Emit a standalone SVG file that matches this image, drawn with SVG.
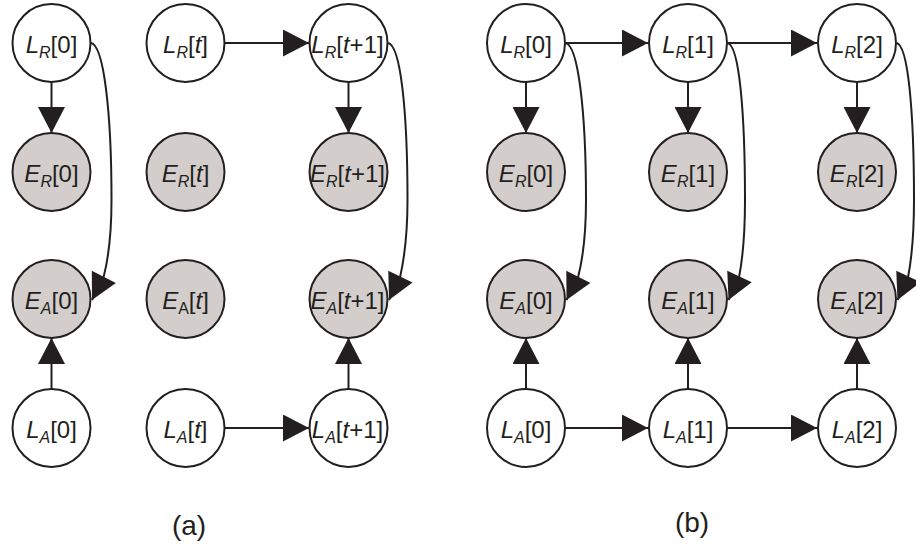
<svg xmlns="http://www.w3.org/2000/svg" width="916" height="545" viewBox="0 0 916 545">
<style>
.n{fill:#ffffff;stroke:#231f20;stroke-width:2}
.e{fill:#d3cecb;stroke:#231f20;stroke-width:2}
.t{font-family:"Liberation Sans",Arial,sans-serif;font-size:24px;fill:#231f20;text-anchor:middle}
.i{font-style:italic}
.s{font-size:16px}
.c{fill:none;stroke:#231f20;stroke-width:2}
.lb{font-family:"Liberation Sans",Arial,sans-serif;font-size:28px;fill:#231f20;text-anchor:middle}
</style>
<defs>
<marker id="ah" markerUnits="userSpaceOnUse" markerWidth="27" markerHeight="27" viewBox="0 0 26 27" refX="26" refY="13.5" orient="auto">
<path d="M0,0 L26,13.5 L0,27 z" fill="#231f20"/>
</marker>
</defs>
<g id="connectors">
<path class="c" d="M51.5,82 L51.5,133" marker-end="url(#ah)"/>
<path class="c" d="M51.5,389 L51.5,338" marker-end="url(#ah)"/>
<path class="c" d="M91,43 C103.5,45 111.5,110 111.5,200 C111.5,240 107.5,262 103.5,277.5 L92,300" marker-end="url(#ah)"/>
<path class="c" d="M224,43 L309,43" marker-end="url(#ah)"/>
<path class="c" d="M224,428 L309,428" marker-end="url(#ah)"/>
<path class="c" d="M348.5,82 L348.5,133" marker-end="url(#ah)"/>
<path class="c" d="M348.5,389 L348.5,338" marker-end="url(#ah)"/>
<path class="c" d="M388,43 C400.5,45 407.5,110 407.5,200 C407.5,240 403.5,262 400,277.5 L389,300" marker-end="url(#ah)"/>
<path class="c" d="M526,82 L526,133" marker-end="url(#ah)"/>
<path class="c" d="M526,389 L526,338" marker-end="url(#ah)"/>
<path class="c" d="M565.5,43 C578,45 586,110 586,200 C586,240 582,262 578,277.5 L566.5,300" marker-end="url(#ah)"/>
<path class="c" d="M688,82 L688,133" marker-end="url(#ah)"/>
<path class="c" d="M688,389 L688,338" marker-end="url(#ah)"/>
<path class="c" d="M727.5,43 C739,45 745,110 745,200 C745,240 742,262 739,277.5 L728.5,300" marker-end="url(#ah)"/>
<path class="c" d="M857,82 L857,133" marker-end="url(#ah)"/>
<path class="c" d="M857,389 L857,338" marker-end="url(#ah)"/>
<path class="c" d="M896.5,43 C908,45 914,110 914,200 C914,240 911,262 908,277.5 L897.5,300" marker-end="url(#ah)"/>
<path class="c" d="M565.5,43 L648,43" marker-end="url(#ah)"/>
<path class="c" d="M727.5,43 L817,43" marker-end="url(#ah)"/>
<path class="c" d="M565.5,428 L648,428" marker-end="url(#ah)"/>
<path class="c" d="M727.5,428 L817,428" marker-end="url(#ah)"/>
</g>
<g id="a_LR0"><circle class="n" cx="51.5" cy="43" r="39"/><text class="t" x="51.5" y="53"><tspan class="i">L</tspan><tspan class="i s" dy="5">R</tspan><tspan dy="-5">[0]</tspan></text></g>
<g id="a_ER0"><circle class="e" cx="51.5" cy="172" r="39"/><text class="t" x="51.5" y="182"><tspan class="i">E</tspan><tspan class="i s" dy="5">R</tspan><tspan dy="-5">[0]</tspan></text></g>
<g id="a_EA0"><circle class="e" cx="51.5" cy="299" r="39"/><text class="t" x="51.5" y="309"><tspan class="i">E</tspan><tspan class="i s" dy="5">A</tspan><tspan dy="-5">[0]</tspan></text></g>
<g id="a_LA0"><circle class="n" cx="51.5" cy="428" r="39"/><text class="t" x="51.5" y="438"><tspan class="i">L</tspan><tspan class="i s" dy="5">A</tspan><tspan dy="-5">[0]</tspan></text></g>
<g id="a_LRt"><circle class="n" cx="185.5" cy="43" r="39"/><text class="t" x="185.5" y="53"><tspan class="i">L</tspan><tspan class="i s" dy="5">R</tspan><tspan dy="-5">[</tspan><tspan class="i">t</tspan>]</text></g>
<g id="a_ERt"><circle class="e" cx="185.5" cy="172" r="39"/><text class="t" x="185.5" y="182"><tspan class="i">E</tspan><tspan class="i s" dy="5">R</tspan><tspan dy="-5">[</tspan><tspan class="i">t</tspan>]</text></g>
<g id="a_EAt"><circle class="e" cx="185.5" cy="299" r="39"/><text class="t" x="185.5" y="309"><tspan class="i">E</tspan><tspan class="s" dy="5">A</tspan><tspan dy="-5">[</tspan><tspan class="i">t</tspan>]</text></g>
<g id="a_LAt"><circle class="n" cx="185.5" cy="428" r="39"/><text class="t" x="185.5" y="438"><tspan class="i">L</tspan><tspan class="i s" dy="5">A</tspan><tspan dy="-5">[</tspan><tspan class="i">t</tspan>]</text></g>
<g id="a_LRt1"><circle class="n" cx="348.5" cy="43" r="39"/><text class="t" x="347.5" y="53"><tspan class="i">L</tspan><tspan class="i s" dy="5">R</tspan><tspan dy="-5">[</tspan><tspan class="i">t</tspan>+1]</text></g>
<g id="a_ERt1"><circle class="e" cx="348.5" cy="172" r="39"/><text class="t" x="347.5" y="182"><tspan class="i">E</tspan><tspan class="i s" dy="5">R</tspan><tspan dy="-5">[</tspan><tspan class="i">t</tspan>+1]</text></g>
<g id="a_EAt1"><circle class="e" cx="348.5" cy="299" r="39"/><text class="t" x="347.5" y="309"><tspan class="i">E</tspan><tspan class="i s" dy="5">A</tspan><tspan dy="-5">[</tspan><tspan class="i">t</tspan>+1]</text></g>
<g id="a_LAt1"><circle class="n" cx="348.5" cy="428" r="39"/><text class="t" x="347.5" y="438"><tspan class="i">L</tspan><tspan class="i s" dy="5">A</tspan><tspan dy="-5">[</tspan><tspan class="i">t</tspan>+1]</text></g>
<g id="b_LR0"><circle class="n" cx="526" cy="43" r="39"/><text class="t" x="526" y="53"><tspan class="i">L</tspan><tspan class="i s" dy="5">R</tspan><tspan dy="-5">[0]</tspan></text></g>
<g id="b_ER0"><circle class="e" cx="526" cy="172" r="39"/><text class="t" x="526" y="182"><tspan class="i">E</tspan><tspan class="i s" dy="5">R</tspan><tspan dy="-5">[0]</tspan></text></g>
<g id="b_EA0"><circle class="e" cx="526" cy="299" r="39"/><text class="t" x="526" y="309"><tspan class="i">E</tspan><tspan class="i s" dy="5">A</tspan><tspan dy="-5">[0]</tspan></text></g>
<g id="b_LA0"><circle class="n" cx="526" cy="428" r="39"/><text class="t" x="526" y="438"><tspan class="i">L</tspan><tspan class="i s" dy="5">A</tspan><tspan dy="-5">[0]</tspan></text></g>
<g id="b_LR1"><circle class="n" cx="688" cy="43" r="39"/><text class="t" x="688" y="53"><tspan class="i">L</tspan><tspan class="i s" dy="5">R</tspan><tspan dy="-5">[1]</tspan></text></g>
<g id="b_ER1"><circle class="e" cx="688" cy="172" r="39"/><text class="t" x="688" y="182"><tspan class="i">E</tspan><tspan class="i s" dy="5">R</tspan><tspan dy="-5">[1]</tspan></text></g>
<g id="b_EA1"><circle class="e" cx="688" cy="299" r="39"/><text class="t" x="688" y="309"><tspan class="i">E</tspan><tspan class="i s" dy="5">A</tspan><tspan dy="-5">[1]</tspan></text></g>
<g id="b_LA1"><circle class="n" cx="688" cy="428" r="39"/><text class="t" x="688" y="438"><tspan class="i">L</tspan><tspan class="i s" dy="5">A</tspan><tspan dy="-5">[1]</tspan></text></g>
<g id="b_LR2"><circle class="n" cx="857" cy="43" r="39"/><text class="t" x="857" y="53"><tspan class="i">L</tspan><tspan class="i s" dy="5">R</tspan><tspan dy="-5">[2]</tspan></text></g>
<g id="b_ER2"><circle class="e" cx="857" cy="172" r="39"/><text class="t" x="857" y="182"><tspan class="i">E</tspan><tspan class="i s" dy="5">R</tspan><tspan dy="-5">[2]</tspan></text></g>
<g id="b_EA2"><circle class="e" cx="857" cy="299" r="39"/><text class="t" x="857" y="309"><tspan class="i">E</tspan><tspan class="i s" dy="5">A</tspan><tspan dy="-5">[2]</tspan></text></g>
<g id="b_LA2"><circle class="n" cx="857" cy="428" r="39"/><text class="t" x="857" y="438"><tspan class="i">L</tspan><tspan class="i s" dy="5">A</tspan><tspan dy="-5">[2]</tspan></text></g>
<g id="labels">
<text class="lb" x="189" y="535">(a)</text>
<text class="lb" x="692" y="532">(b)</text>
</g>
</svg>
